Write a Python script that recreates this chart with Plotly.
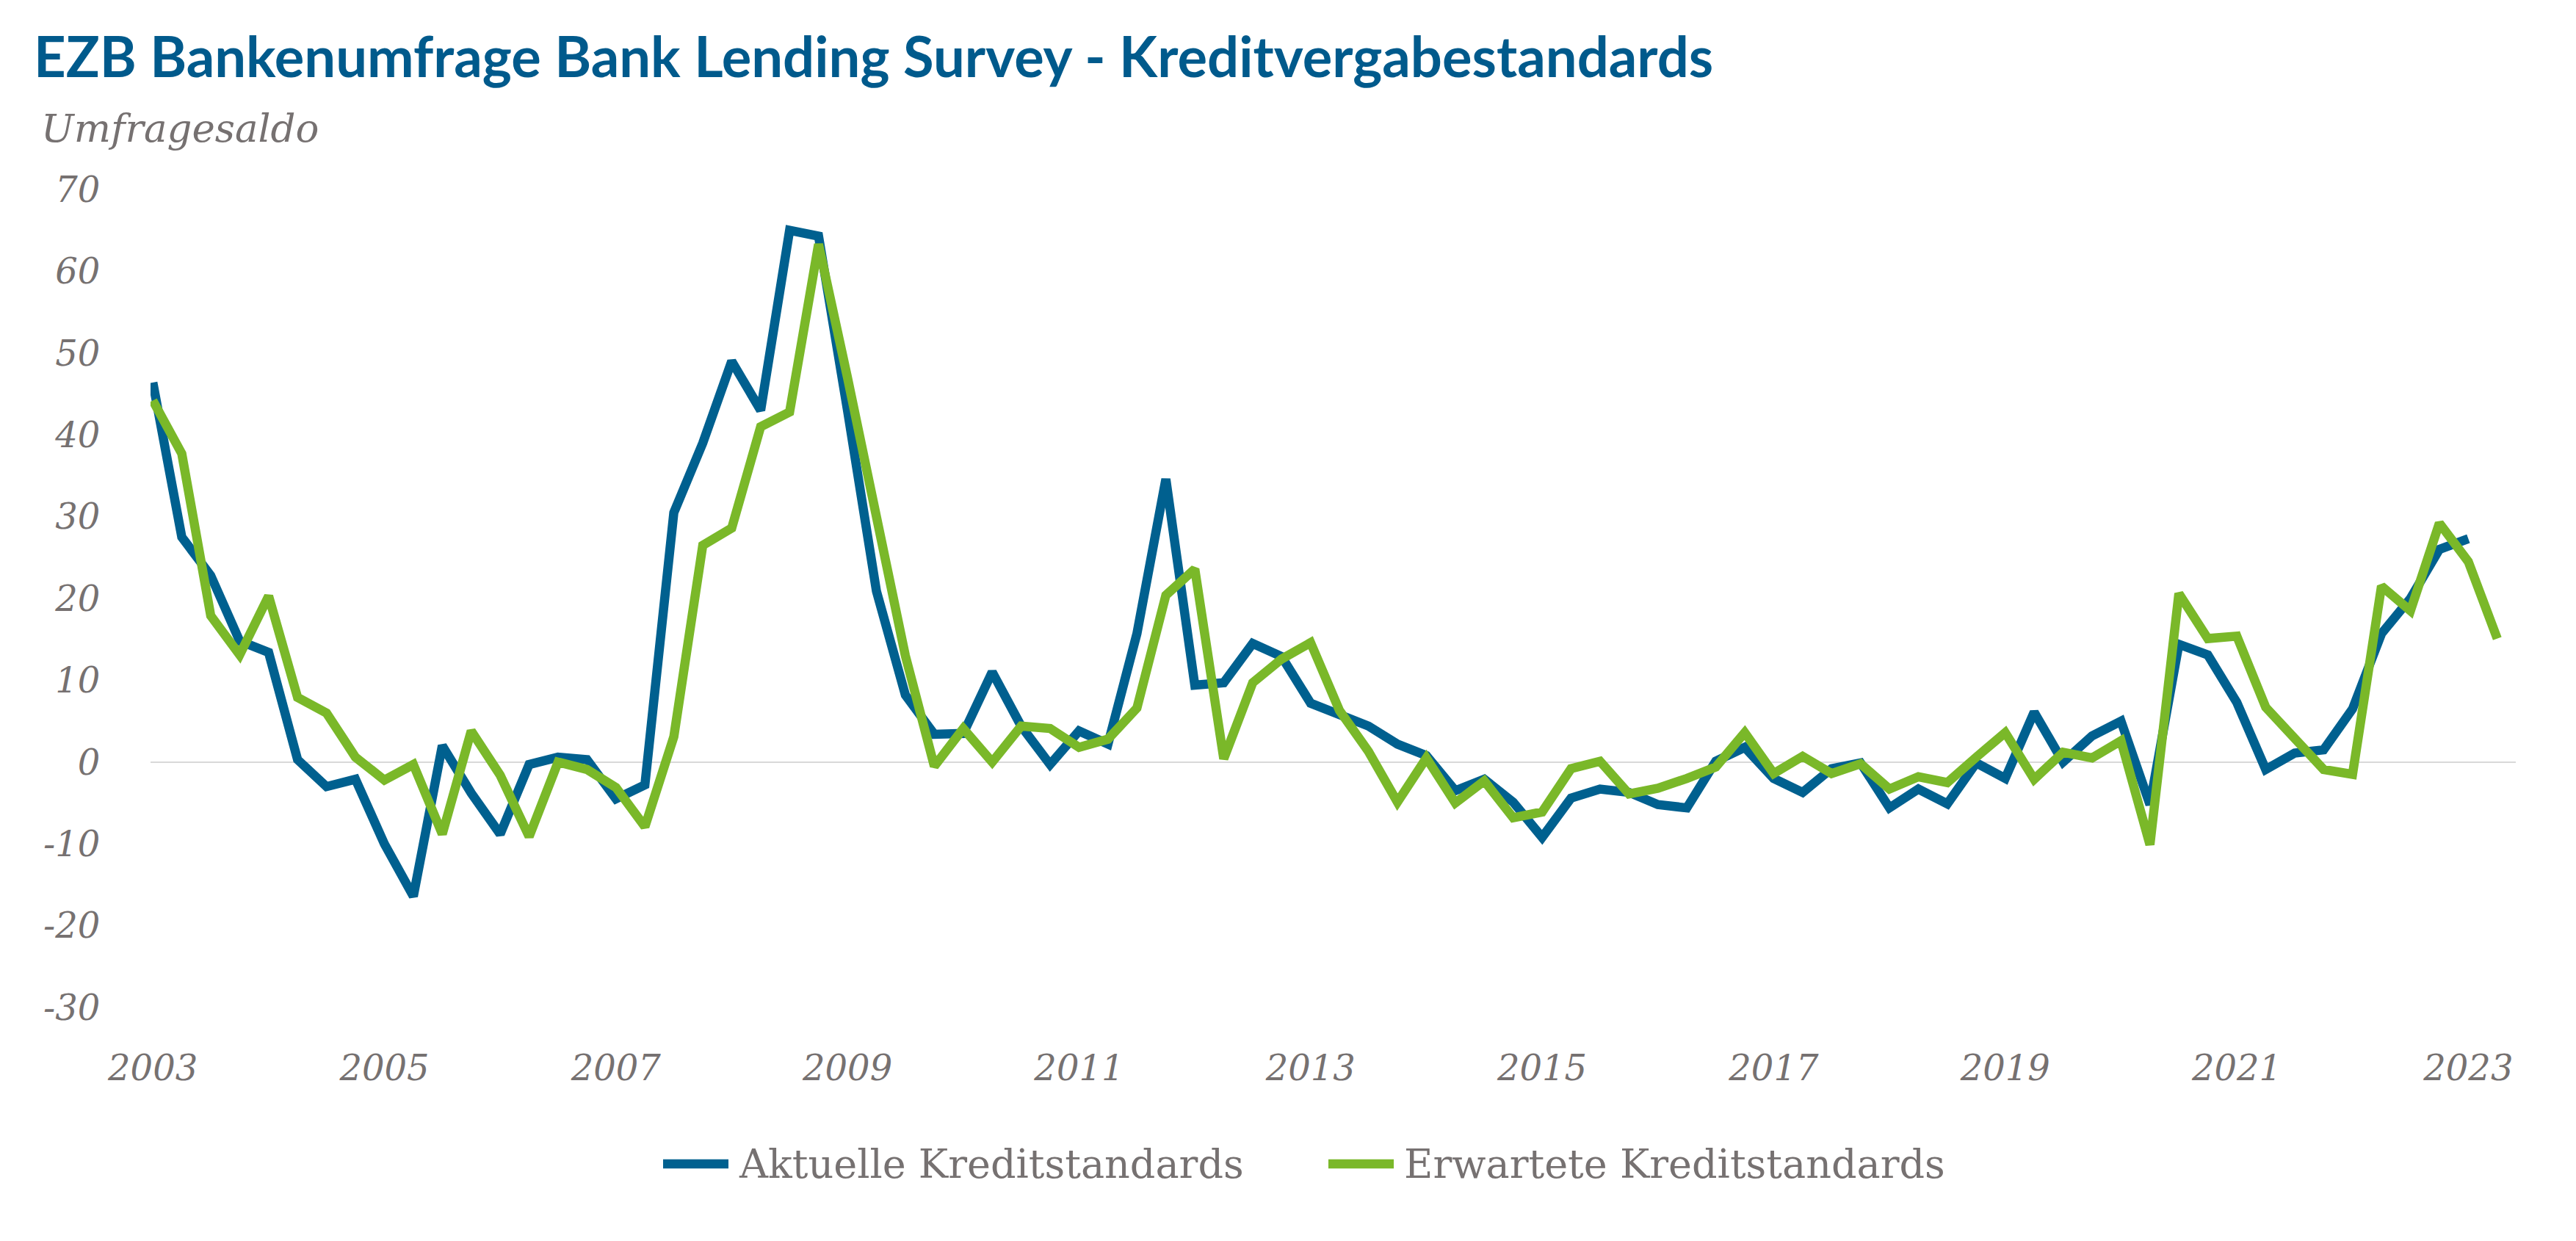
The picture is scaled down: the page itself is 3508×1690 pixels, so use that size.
import plotly.graph_objects as go

# Quarterly observations, 2003Q1 ...
start_year = 2003
aktuelle = [46.4, 27.5, 22.8, 14.8, 13.4, 0.3, -3.0, -2.1, -10.0, -16.4,
            2.0, -3.8, -8.8, -0.3, 0.6, 0.3, -4.5, -2.8, 30.5, 39.0,
            49.0, 43.0, 65.0, 64.3, 43.0, 20.9, 8.2, 3.4, 3.5, 11.0,
            4.4, -0.3, 3.8, 2.2, 15.7, 34.6, 9.4, 9.7, 14.5, 12.9,
            7.2, 5.7, 4.4, 2.2, 0.8, -3.5, -2.1, -4.9, -9.2, -4.4,
            -3.3, -3.7, -5.2, -5.6, 0.1, 1.8, -2.0, -3.7, -0.8, -0.1,
            -5.6, -3.3, -5.1, -0.1, -2.0, 6.1, 0.0, 3.2, 5.0, -5.2,
            14.4, 13.1, 7.3, -0.9, 1.1, 1.5, 6.5, 15.7, 20.0, 26.0,
            27.3]
erwartete = [44.2, 37.7, 17.9, 13.1, 20.3, 7.9, 6.0, 0.6, -2.2, -0.3,
             -8.8, 3.8, -1.6, -9.1, 0.0, -0.9, -3.1, -7.9, 3.1, 26.5,
             28.6, 41.0, 42.8, 63.3, 47.0, 30.0, 13.0, -0.5, 4.1, 0.0,
             4.4, 4.1, 1.8, 2.8, 6.6, 20.4, 23.6, 0.4, 9.7, 12.6,
             14.6, 6.3, 1.3, -4.9, 0.5, -5.0, -2.3, -6.8, -6.1, -0.8,
             0.1, -3.9, -3.2, -2.0, -0.6, 3.6, -1.4, 0.7, -1.4, -0.2,
             -3.3, -1.8, -2.5, 0.6, 3.6, -2.1, 1.2, 0.5, 2.6, -10.1,
             20.6, 15.1, 15.4, 6.7, 3.0, -0.9, -1.5, 21.5, 18.5, 29.2,
             24.5, 15.1]
series_names = ["Aktuelle Kreditstandards", "Erwartete Kreditstandards"]
year_ticks = list(range(2003, 2024, 2))
y_ticks = list(range(-30, 71, 10))
y_ticktext = [str(v) for v in y_ticks]  # hyphen-minus as in the original

x_akt = [start_year + i / 4 for i in range(len(aktuelle))]
x_erw = [start_year + i / 4 for i in range(len(erwartete))]

BLUE = "#00608f"
GREEN = "#7ab829"
GREY = "#767171"
SERIF = "DejaVu Serif"
LW = 12.5

fig = go.Figure()
fig.add_trace(go.Scatter(x=x_akt, y=aktuelle, mode="lines", name=series_names[0],
                         line=dict(color=BLUE, width=LW)))
fig.add_trace(go.Scatter(x=x_erw, y=erwartete, mode="lines", name=series_names[1],
                         line=dict(color=GREEN, width=LW)))

W, H = 3508, 1690
L, R, T, B = 197, 90, 250, 326
PW, PH = W - L - R, H - T - B


def px_x(p):
    return (p - L) / PW


def px_y(p):
    return (H - B - p) / PH


fig.update_layout(
    width=W, height=H,
    margin=dict(l=L, r=R, t=T, b=B),
    paper_bgcolor="white", plot_bgcolor="white",
    title=dict(text="<b>EZB Bankenumfrage Bank Lending Survey - Kreditvergabestandards</b>",
               x=38 / W, xanchor="left", xref="container",
               y=1 - 70 / H, yanchor="middle", yref="container",
               font=dict(family="Lato", size=76, color="#005a8c")),
    showlegend=False,
    xaxis=dict(range=[2002.98, 2023.41], tickmode="array", tickvals=year_ticks,
               ticktext=[str(y) for y in year_ticks],
               showgrid=False, zeroline=False, showline=False,
               ticks="outside", ticklen=40, tickcolor="rgba(0,0,0,0)",
               tickfont=dict(family=SERIF, size=48, color=GREY, style="italic")),
    yaxis=dict(range=[-30, 70], tickmode="array", tickvals=y_ticks, ticktext=y_ticktext,
               showgrid=False, zeroline=True, zerolinecolor="#d9d9d9", zerolinewidth=2,
               showline=False, ticks="outside", ticklen=58, tickcolor="rgba(0,0,0,0)",
               tickfont=dict(family=SERIF, size=48, color=GREY, style="italic")),
)
fig.add_annotation(text="Umfragesaldo", xref="paper", yref="paper",
                   x=px_x(46), xanchor="left",
                   y=px_y(166), yanchor="middle",
                   showarrow=False,
                   font=dict(family=SERIF, size=53, color=GREY, style="italic"))

# legend (long line symbols as in the original)
legend_y = px_y(1577)
for name, color, x0, x1, xt in [(series_names[0], BLUE, 895, 984, 996),
                                (series_names[1], GREEN, 1801, 1890, 1902)]:
    fig.add_shape(type="line", xref="paper", yref="paper",
                  x0=px_x(x0), x1=px_x(x1), y0=legend_y, y1=legend_y,
                  line=dict(color=color, width=LW))
    fig.add_annotation(text=name, xref="paper", yref="paper",
                       x=px_x(xt), xanchor="left", y=legend_y, yanchor="middle",
                       showarrow=False,
                       font=dict(family=SERIF, size=54, color=GREY))

fig.write_html("out.html")
